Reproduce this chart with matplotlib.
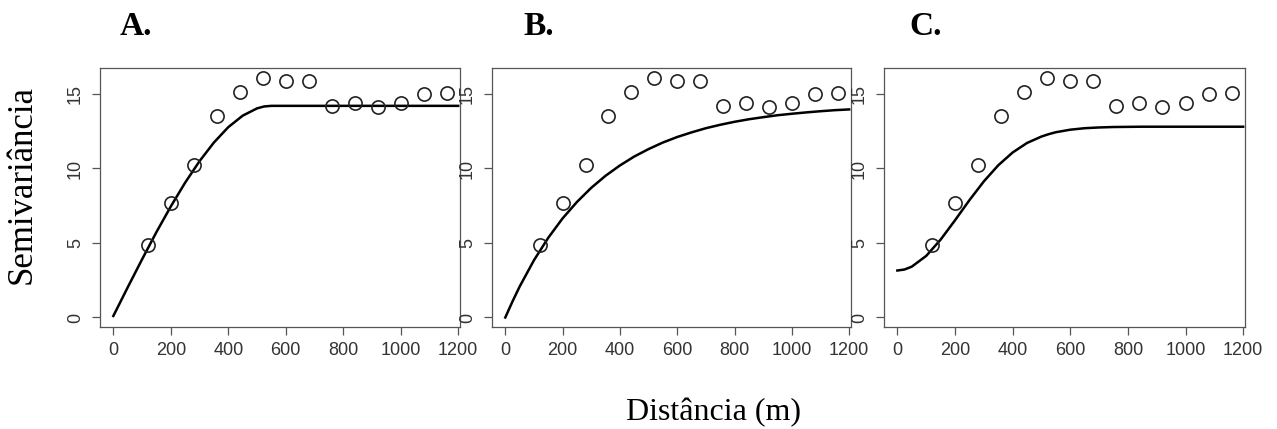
import numpy as np
import matplotlib
matplotlib.use("Agg")
import matplotlib.pyplot as plt

# semivariograma experimental (igual nos três painéis)
dist = [120, 200, 280, 360, 440, 520, 600, 680, 760, 840, 920, 1000, 1080, 1160]
semiv = [4.85, 7.7, 10.2, 13.5, 15.15, 16.1, 15.85, 15.85, 14.2, 14.4, 14.1, 14.4, 15.0, 15.05]

# modelos ajustados
h_mod = [0, 25, 50, 100, 150, 200, 250, 300, 350, 400, 450, 500, 525, 550, 600, 650,
         700, 750, 800, 850, 900, 950, 1000, 1050, 1100, 1150, 1200]
esferico = [0.1, 1.06, 2.02, 3.90, 5.73, 7.45, 9.05, 10.49, 11.74, 12.77, 13.54, 14.03,
            14.16, 14.2, 14.2, 14.2, 14.2, 14.2, 14.2, 14.2, 14.2, 14.2, 14.2, 14.2,
            14.2, 14.2, 14.2]
exponencial = [0.0, 1.07, 2.07, 3.84, 5.35, 6.65, 7.75, 8.70, 9.51, 10.20, 10.80, 11.30,
               11.52, 11.74, 12.11, 12.42, 12.70, 12.93, 13.13, 13.30, 13.44, 13.57,
               13.67, 13.76, 13.84, 13.91, 13.96]
gaussiano = [3.15, 3.22, 3.41, 4.13, 5.22, 6.52, 7.87, 9.13, 10.21, 11.07, 11.71, 12.14,
             12.30, 12.43, 12.60, 12.70, 12.75, 12.78, 12.79, 12.80, 12.80, 12.80, 12.80,
             12.80, 12.80, 12.80, 12.80]

paineis = ["A.", "B.", "C."]
modelos = [esferico, exponencial, gaussiano]

W, H = 1277, 429
fig = plt.figure(figsize=(W / 100, H / 100), dpi=100)

caixas = [(100, 360), (492, 359), (884, 361)]
topo, base = 68, 327
pos_titulo = [120, 523, 909]

for (x0, w), titulo, modelo, xt in zip(caixas, paineis, modelos, pos_titulo):
    ax = fig.add_axes([x0 / W, (H - base) / H, w / W, (base - topo) / H])
    ax.plot(h_mod, modelo, color="black", lw=1.8, zorder=2)
    ax.plot(dist, semiv, "o", mfc="none", mec="#222222", ms=9.5, mew=1.2, zorder=3)
    ax.set_xlim(-46.4, 1206.4)
    ax.set_ylim(-0.64, 16.74)
    ax.set_xticks(range(0, 1201, 200))
    ax.set_yticks([0, 5, 10, 15])
    ax.tick_params(axis="both", direction="out", length=5.5, width=0.9,
                   color="#555555", labelsize=13, labelcolor="#333333",
                   labelfontfamily="Liberation Sans")
    ax.tick_params(axis="x", pad=5)
    ax.tick_params(axis="y", pad=6)
    for lab in ax.get_yticklabels():
        lab.set_rotation(90)
        lab.set_va("center")
    for s in ax.spines.values():
        s.set_color("#555555")
        s.set_linewidth(0.9)
    fig.text(xt / W, (H - 35) / H, titulo, fontsize=24, fontweight="bold",
             family="Liberation Serif", ha="left", va="baseline")

fig.text(22 / W, (H - 185) / H, "Semivariância", rotation=90, fontsize=25,
         family="Liberation Serif", ha="center", va="center")
fig.text(714 / W, (H - 420) / H, "Distância (m)", fontsize=23,
         family="Liberation Serif", ha="center", va="baseline")

fig.savefig("out.png", dpi=100)
